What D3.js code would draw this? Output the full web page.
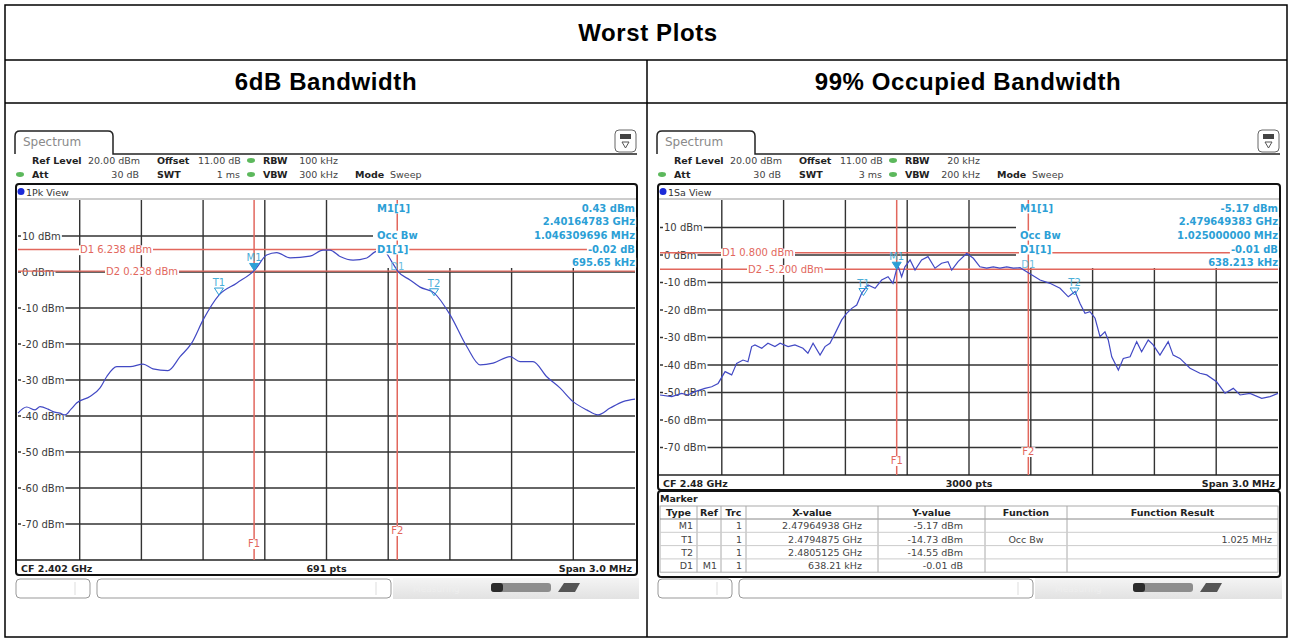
<!DOCTYPE html>
<html>
<head>
<meta charset="utf-8">
<script src="https://cdn.jsdelivr.net/npm/d3@7"></script>
<style>
body { margin: 0; background: #fff; }
svg { display: block; }
</style>
</head>
<body>
<svg id="chart" width="1292" height="642"></svg>
<script>
// ---- data ----
var mainTitle = "Worst Plots";
var colTitles = ["6dB Bandwidth", "99% Occupied Bandwidth"];

var yTicks = [10, 0, -10, -20, -30, -40, -50, -60, -70];
var xGrid = [-1.2, -0.9, -0.6, -0.3, 0, 0.3, 0.6, 0.9, 1.2];   // MHz from CF

// 6 dB bandwidth trace: offset from CF (MHz), level (dBm)
var bw6Freq = [-1.5,-1.458,-1.417,-1.393,-1.354,-1.33,-1.296,-1.271,-1.242,-1.215,-1.15,-1.101,-1.069,-1.02,-0.955,-0.892,-0.844,-0.771,-0.712,-0.655,-0.6,-0.523,-0.437,-0.348,-0.291,-0.242,-0.177,-0.08,-0.017,0.017,0.066,0.129,0.196,0.236,0.275,0.317,0.348,0.406,0.455,0.523,0.601,0.682,0.747,0.81,0.893,0.941,1.004,1.071,1.135,1.199,1.265,1.32,1.379,1.442,1.5];
var bw6Level = [-39.2,-37.5,-38.3,-37.4,-38.1,-38.8,-39.2,-39.7,-38.1,-36.4,-34.6,-32.2,-29.1,-26.3,-26.3,-25.6,-26.9,-27.4,-23.5,-19.7,-13.3,-6.4,-3.1,0.6,4.7,5.4,3.9,4.4,6.1,6.1,4.3,3.3,3.9,5.6,6.1,2.9,0.1,-2.2,-4.2,-5.8,-11.9,-20.7,-25.8,-25.3,-23.5,-24.9,-24.9,-29.1,-32.2,-36.0,-38.3,-39.7,-37.8,-36.0,-35.3];

// 99% occupied bandwidth trace
var obwFreq = [-1.5,-1.443,-1.395,-1.364,-1.33,-1.282,-1.249,-1.218,-1.184,-1.152,-1.128,-1.097,-1.073,-1.055,-1.039,-1.006,-0.976,-0.942,-0.917,-0.878,-0.845,-0.806,-0.782,-0.757,-0.723,-0.699,-0.675,-0.65,-0.618,-0.594,-0.569,-0.545,-0.521,-0.49,-0.456,-0.424,-0.393,-0.369,-0.346,-0.327,-0.311,-0.286,-0.262,-0.23,-0.199,-0.165,-0.133,-0.102,-0.084,-0.053,-0.011,0.021,0.053,0.086,0.118,0.15,0.183,0.215,0.248,0.28,0.345,0.393,0.442,0.482,0.515,0.539,0.563,0.587,0.612,0.636,0.66,0.676,0.693,0.725,0.749,0.782,0.814,0.838,0.87,0.894,0.927,0.967,0.991,1.024,1.073,1.121,1.154,1.202,1.243,1.283,1.316,1.364,1.421,1.461,1.5];
var obwLevel = [-50.9,-51.5,-50.3,-50.9,-49.7,-48.5,-47.9,-46.7,-42.4,-43.6,-39.4,-38.2,-38.8,-33.3,-32.7,-33.9,-32.1,-33.3,-32.1,-33.3,-32.7,-33.9,-35.7,-32.1,-36.4,-33.3,-32.1,-28.5,-23.6,-21.2,-19.4,-18.2,-13.9,-10.9,-12.1,-9.1,-7.9,-10.3,-3.6,-7.9,-4.3,-1.8,-5.5,-1.8,-0.6,-4.8,-3.0,-2.4,-5.5,-2.4,0.6,-1.2,-4.3,-4.8,-4.3,-4.8,-4.3,-4.8,-4.6,-6.1,-9.1,-10.3,-12.1,-15.2,-13.3,-17.6,-21.2,-20.6,-23.0,-29.7,-27.9,-30.9,-37.0,-41.8,-37.6,-37.0,-31.5,-35.2,-30.9,-32.7,-36.4,-31.5,-36.4,-37.6,-41.2,-43.0,-43.6,-46.1,-50.3,-48.5,-50.9,-50.3,-52.1,-51.5,-50.3];

// markers: name, offset (MHz), level (dBm)
var bw6Markers = [["M1", -0.352, 0.43], ["T1", -0.523, -6.4], ["T2", 0.523, -6.6], ["D1", 0.344, 0.41]];
var obwMarkers = [["M1", -0.351, -5.17], ["T1", -0.5125, -14.73], ["T2", 0.5125, -14.55], ["D1", 0.288, -5.18]];

// display lines (dBm) and frequency lines (MHz)
var bw6DLines = [["D1", "6.238 dBm", 6.238], ["D2", "0.238 dBm", 0.238]];
var obwDLines = [["D1", "0.800 dBm", 0.8], ["D2", "-5.200 dBm", -5.2]];
var bw6FLines = [["F1", -0.352], ["F2", 0.344]];
var obwFLines = [["F1", -0.351], ["F2", 0.288]];

var bw6Info = [["M1[1]", "0.43 dBm"], ["", "2.40164783 GHz"], ["Occ Bw", "1.046309696 MHz"], ["D1[1]", "-0.02 dB"], ["", "695.65 kHz"]];
var obwInfo = [["M1[1]", "-5.17 dBm"], ["", "2.479649383 GHz"], ["Occ Bw", "1.025000000 MHz"], ["D1[1]", "-0.01 dB"], ["", "638.213 kHz"]];

var bw6Setup = { rbw: "100 kHz", vbw: "300 kHz", swt: "1 ms", view: "1Pk View", cf: "CF 2.402 GHz", pts: "691 pts" };
var obwSetup = { rbw: "20 kHz", vbw: "200 kHz", swt: "3 ms", view: "1Sa View", cf: "CF 2.48 GHz", pts: "3000 pts" };

var markerCols = ["Type", "Ref", "Trc", "X-value", "Y-value", "Function", "Function Result"];
var markerRows = [
  ["M1", "", "1", "2.47964938 GHz", "-5.17 dBm", "", ""],
  ["T1", "", "1", "2.4794875 GHz", "-14.73 dBm", "Occ Bw", "1.025 MHz"],
  ["T2", "", "1", "2.4805125 GHz", "-14.55 dBm", "", ""],
  ["D1", "M1", "1", "638.21 kHz", "-0.01 dB", "", ""]
];

// ---- drawing ----
var svg = d3.select("#chart");
var RED = "#e2675d", CYAN = "#2c9fd6", TRACE = "#4249c4";

function label(g, x, y, str, o) {
  o = o || {};
  var size = o.size || 10;
  var t = g.append("text").attr("x", x).attr("y", y).text(str)
    .attr("font-size", size)
    .attr("font-weight", o.weight || "normal")
    .attr("fill", o.color || "#333")
    .attr("text-anchor", o.anchor || "start");
  if (o.spacing) t.attr("letter-spacing", o.spacing);
  if (o.bg) {
    var b = t.node().getBBox();
    g.insert("rect", function() { return t.node(); })
      .attr("x", b.x - 1).attr("y", y - size * 0.78)
      .attr("width", b.width + 2).attr("height", size * 0.98)
      .attr("fill", "#fff");
  }
  return t;
}

// outer table
var tbl = svg.append("g").attr("font-family", "Liberation Sans, Arial, sans-serif");
tbl.append("rect").attr("x", 5).attr("y", 5).attr("width", 1282).attr("height", 632)
  .attr("fill", "none").attr("stroke", "#000").attr("stroke-width", 1.5);
tbl.append("line").attr("x1", 5).attr("x2", 1287).attr("y1", 60).attr("y2", 60).attr("stroke", "#000").attr("stroke-width", 1.5);
tbl.append("line").attr("x1", 5).attr("x2", 1287).attr("y1", 103).attr("y2", 103).attr("stroke", "#000").attr("stroke-width", 1.5);
tbl.append("line").attr("x1", 647).attr("x2", 647).attr("y1", 60).attr("y2", 637).attr("stroke", "#000").attr("stroke-width", 1.5);
label(tbl, 648, 41, mainTitle, { size: 24, weight: "bold", anchor: "middle", color: "#000", spacing: 0.6 });
label(tbl, 326, 90, colTitles[0], { size: 24, weight: "bold", anchor: "middle", color: "#000", spacing: 0.6 });
label(tbl, 968, 90, colTitles[1], { size: 24, weight: "bold", anchor: "middle", color: "#000", spacing: 0.6 });

function drawScreen(c) {
  var g = svg.append("g").attr("font-family", "DejaVu Sans, Verdana, sans-serif");
  var ox = c.ox, fr = c.frameRight;
  var x = d3.scaleLinear().domain([-1.5, 1.5]).range([c.gx0, c.gx1]);
  var y = d3.scaleLinear().domain([-80, 20]).range([c.gy1, c.gy0]);

  // tab + header panel line
  g.append("path")
    .attr("d", "M" + ox + ",154 V136 Q" + ox + ",131 " + (ox + 5) + ",131 H" + (ox + 93) +
      " Q" + (ox + 98) + ",131 " + (ox + 98) + ",136 V154 H" + fr)
    .attr("fill", "none").attr("stroke", "#222").attr("stroke-width", 1.5);
  label(g, ox + 8, 146, "Spectrum", { size: 12, color: "#8a8a8a" });

  // small icon top right
  g.append("rect").attr("x", fr - 22).attr("y", 130).attr("width", 21).attr("height", 22).attr("rx", 4)
    .attr("fill", "#fff").attr("stroke", "#666");
  g.append("rect").attr("x", fr - 17).attr("y", 134).attr("width", 11).attr("height", 5).attr("fill", "#444");
  g.append("path").attr("d", "M" + (fr - 15) + ",142 L" + (fr - 8) + ",142 L" + (fr - 11.5) + ",148 Z")
    .attr("fill", "none").attr("stroke", "#555");

  // setting rows
  var s = c.setup;
  [[236, 160.5], [5, 174.5], [236, 174.5]].forEach(function(p) {
    g.append("ellipse").attr("cx", ox + p[0]).attr("cy", p[1]).attr("rx", 4).attr("ry", 2.4).attr("fill", "#5cb85c");
  });
  label(g, ox + 17, 164, "Ref Level", { size: 9.5, weight: "bold", color: "#222" });
  label(g, ox + 73, 164, "20.00 dBm", { size: 9.5, color: "#444" });
  label(g, ox + 142, 164, "Offset", { size: 9.5, weight: "bold", color: "#222" });
  label(g, ox + 183, 164, "11.00 dB", { size: 9.5, color: "#444" });
  label(g, ox + 248, 164, "RBW", { size: 9.5, weight: "bold", color: "#222" });
  label(g, ox + 323, 164, s.rbw, { size: 9.5, color: "#444", anchor: "end" });
  label(g, ox + 17, 178, "Att", { size: 9.5, weight: "bold", color: "#222" });
  label(g, ox + 124, 178, "30 dB", { size: 9.5, color: "#444", anchor: "end" });
  label(g, ox + 142, 178, "SWT", { size: 9.5, weight: "bold", color: "#222" });
  label(g, ox + 225, 178, s.swt, { size: 9.5, color: "#444", anchor: "end" });
  label(g, ox + 248, 178, "VBW", { size: 9.5, weight: "bold", color: "#222" });
  label(g, ox + 323, 178, s.vbw, { size: 9.5, color: "#444", anchor: "end" });
  label(g, ox + 340, 178, "Mode", { size: 9.5, weight: "bold", color: "#222" });
  label(g, ox + 375, 178, "Sweep", { size: 9.5, color: "#444" });

  // plot frame
  g.append("rect").attr("x", ox + 1).attr("y", 184).attr("width", fr - ox - 1).attr("height", c.gy1 + 15 - 184)
    .attr("rx", 3).attr("fill", "#fff").attr("stroke", "#111").attr("stroke-width", 2);
  g.append("circle").attr("cx", ox + 6).attr("cy", 191.5).attr("r", 3.5).attr("fill", "#1b2ad8");
  label(g, ox + 11, 195.5, s.view, { size: 9.5, color: "#333" });
  g.append("line").attr("x1", ox + 2).attr("x2", fr - 1).attr("y1", c.gy0 - 1).attr("y2", c.gy0 - 1).attr("stroke", "#999");

  // grid
  g.selectAll(".vg").data(xGrid).enter().append("line")
    .attr("x1", function(d) { return x(d); }).attr("x2", function(d) { return x(d); })
    .attr("y1", c.gy0).attr("y2", c.gy1).attr("stroke", "#333").attr("stroke-width", 1.4);
  g.selectAll(".hg").data(yTicks).enter().append("line")
    .attr("x1", c.gx0).attr("x2", c.gx1)
    .attr("y1", function(d) { return y(d); }).attr("y2", function(d) { return y(d); })
    .attr("stroke", "#333").attr("stroke-width", 1.4);
  yTicks.forEach(function(t) {
    label(g, c.gx0 + 4, y(t) + 3.6, t + " dBm", { size: 10, color: "#3a3a3a", bg: true });
  });

  // bottom status of plot
  g.append("line").attr("x1", ox + 2).attr("x2", fr - 1).attr("y1", c.gy1).attr("y2", c.gy1).attr("stroke", "#222").attr("stroke-width", 1.5);
  label(g, c.gx0 + 3, c.gy1 + 11.5, s.cf, { size: 9.5, weight: "bold", color: "#222" });
  label(g, (c.gx0 + c.gx1) / 2, c.gy1 + 11.5, s.pts, { size: 9.5, weight: "bold", color: "#222", anchor: "middle" });
  label(g, c.gx1 - 3, c.gy1 + 11.5, "Span 3.0 MHz", { size: 9.5, weight: "bold", color: "#222", anchor: "end" });

  // marker info panel background
  g.append("rect").attr("x", c.infoX - 2).attr("y", c.gy0).attr("width", c.gx1 - c.infoX + 2).attr("height", 68).attr("fill", "#fff");

  // display lines and frequency lines
  c.dLines.forEach(function(d) {
    g.append("line").attr("x1", c.gx0).attr("x2", c.gx1).attr("y1", y(d[2])).attr("y2", y(d[2]))
      .attr("stroke", RED).attr("stroke-width", 1.4);
  });
  c.fLines.forEach(function(d) {
    g.append("line").attr("x1", x(d[1])).attr("x2", x(d[1])).attr("y1", c.gy0).attr("y2", c.gy1)
      .attr("stroke", RED).attr("stroke-width", 1.5);
  });

  // trace
  var pts = c.freq.map(function(f, i) { return [f, c.level[i]]; });
  var line = d3.line().x(function(d) { return x(d[0]); }).y(function(d) { return y(d[1]); })
    .curve(c.smooth ? d3.curveMonotoneX : d3.curveLinear);
  g.append("path").datum(pts).attr("d", line).attr("fill", "none").attr("stroke", TRACE).attr("stroke-width", 1.2);

  // markers (the delta marker only shows its label)
  c.markers.forEach(function(m) {
    var mx = x(m[1]), my = y(m[2]);
    if (m[0] === "D1") {
      label(g, mx, my - 1, m[0], { size: 10, color: "#6bbde0", anchor: "middle" });
      return;
    }
    g.append("path").attr("d", "M" + (mx - 4.5) + "," + (my - 7) + " L" + (mx + 4.5) + "," + (my - 7) + " L" + mx + "," + my + " Z")
      .attr("fill", m[0] === "M1" ? CYAN : "none").attr("stroke", CYAN).attr("stroke-width", 1);
    label(g, mx, my - 9, m[0], { size: 10, color: "#4aaed8", anchor: "middle" });
  });

  // labels on lines
  c.dLines.forEach(function(d, i) {
    label(g, c.gx0 + (i ? 88 : 62), y(d[2]) + 3.6, d[0] + "  " + d[1], { size: 10, color: RED, bg: true });
  });
  c.fLines.forEach(function(d, i) {
    label(g, x(d[1]), c.fLabelY[i], d[0], { size: 10, color: RED, anchor: "middle", bg: true });
  });

  // marker info text
  var base = [211.5, 225, 238.5, 252.5, 265.5];
  c.info.forEach(function(r, i) {
    if (r[0]) label(g, c.infoX + 2, base[i], r[0], { size: 10, weight: "bold", color: CYAN, bg: true });
    label(g, c.gx1, base[i], r[1], { size: 10, weight: "bold", color: CYAN, anchor: "end", bg: true });
  });

  // marker table panel (occupied bandwidth only)
  if (c.table) {
    var tTop = c.gy1 + 16;
    g.append("rect").attr("x", ox + 1).attr("y", tTop).attr("width", fr - ox - 1).attr("height", 577 - tTop)
      .attr("rx", 3).attr("fill", "#fff").attr("stroke", "#111").attr("stroke-width", 2);
    label(g, ox + 3, tTop + 11, "Marker", { size: 9.5, weight: "bold", color: "#222" });
    var edges = [660, 697, 721, 746, 878, 985, 1067, 1278];
    var hy = 506, rh = 13.3;
    g.append("rect").attr("x", edges[0]).attr("y", hy).attr("width", edges[7] - edges[0]).attr("height", 13 + rh * 4)
      .attr("fill", "none").attr("stroke", "#aaa");
    g.append("line").attr("x1", edges[0]).attr("x2", edges[7]).attr("y1", hy + 13).attr("y2", hy + 13).attr("stroke", "#888");
    edges.slice(1, 7).forEach(function(e) {
      g.append("line").attr("x1", e).attr("x2", e).attr("y1", hy).attr("y2", hy + 13 + rh * 4).attr("stroke", "#aaa");
    });
    markerCols.forEach(function(h, i) {
      label(g, (edges[i] + edges[i + 1]) / 2, hy + 10, h, { size: 9.5, weight: "bold", color: "#222", anchor: "middle" });
    });
    var anchors = [["end", edges[1] - 4], ["end", edges[2] - 4], ["end", edges[3] - 4], ["end", edges[4] - 16],
      ["end", edges[5] - 22], ["middle", (edges[5] + edges[6]) / 2], ["end", edges[7] - 6]];
    markerRows.forEach(function(row, r) {
      var ry = hy + 13 + rh * (r + 1);
      if (r < 3) g.append("line").attr("x1", edges[0]).attr("x2", edges[7]).attr("y1", ry).attr("y2", ry).attr("stroke", "#ccc");
      row.forEach(function(v, i) {
        if (v) label(g, anchors[i][1], ry - 3, v, { size: 9.5, color: "#444", anchor: anchors[i][0] });
      });
    });
  }

  // bottom status bar
  var sb = g.append("g");
  sb.append("rect").attr("x", ox + 1).attr("y", 579).attr("width", 74).attr("height", 19).attr("rx", 4)
    .attr("fill", "#fff").attr("stroke", "#999");
  sb.append("line").attr("x1", ox + 60).attr("x2", ox + 60).attr("y1", 582).attr("y2", 595).attr("stroke", "#ddd");
  sb.append("rect").attr("x", ox + 82).attr("y", 579).attr("width", 294).attr("height", 19).attr("rx", 4)
    .attr("fill", "#fff").attr("stroke", "#999");
  sb.append("line").attr("x1", ox + 361).attr("x2", ox + 361).attr("y1", 582).attr("y2", 595).attr("stroke", "#ddd");
  sb.append("rect").attr("x", ox + 378).attr("y", 578).attr("width", fr - ox - 376).attr("height", 21).attr("fill", "url(#sbGrad)");
  label(sb, ox + 398, 592, "Measuring", { size: 9, color: "#eee" });
  sb.append("rect").attr("x", ox + 476).attr("y", 583).attr("width", 60).attr("height", 9).attr("rx", 3).attr("fill", "#8d8d8d");
  sb.append("rect").attr("x", ox + 476).attr("y", 583).attr("width", 12).attr("height", 9).attr("rx", 3).attr("fill", "#2b2b2b");
  sb.append("path").attr("d", "M" + (ox + 543) + ",592 L" + (ox + 549) + ",583 L" + (ox + 565) + ",583 L" + (ox + 560) + ",592 Z")
    .attr("fill", "#555");
}

var defs = svg.append("defs");
var grad = defs.append("linearGradient").attr("id", "sbGrad").attr("x1", 0).attr("x2", 0).attr("y1", 0).attr("y2", 1);
grad.append("stop").attr("offset", "0%").attr("stop-color", "#f4f4f4");
grad.append("stop").attr("offset", "100%").attr("stop-color", "#e2e2e2");

drawScreen({
  ox: 15, frameRight: 637, gx0: 18, gx1: 635, gy0: 200, gy1: 560, infoX: 375,
  setup: bw6Setup, freq: bw6Freq, level: bw6Level, smooth: true,
  markers: bw6Markers, dLines: bw6DLines, fLines: bw6FLines, fLabelY: [547, 534], info: bw6Info, table: false
});
drawScreen({
  ox: 657, frameRight: 1280, gx0: 660, gx1: 1278, gy0: 200, gy1: 475, infoX: 1018,
  setup: obwSetup, freq: obwFreq, level: obwLevel, smooth: false,
  markers: obwMarkers, dLines: obwDLines, fLines: obwFLines, fLabelY: [464, 455], info: obwInfo, table: true
});
</script>
</body>
</html>
